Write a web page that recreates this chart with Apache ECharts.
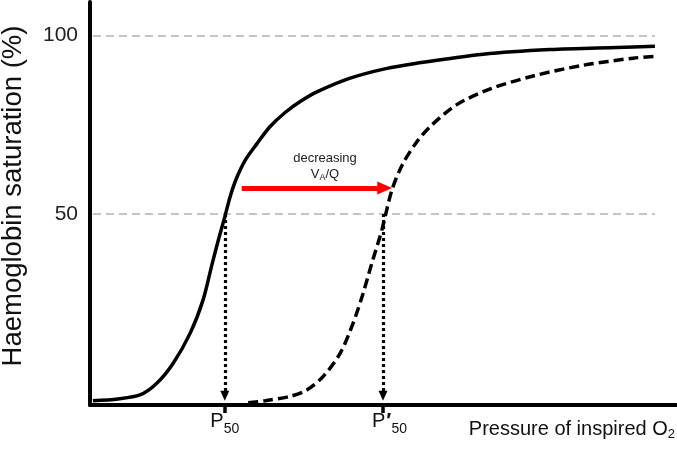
<!DOCTYPE html>
<html><head><meta charset="utf-8">
<script src="https://cdn.jsdelivr.net/npm/echarts@6/dist/echarts.min.js"></script>
<style>html,body{margin:0;padding:0;background:#fff}#c{width:677px;height:451px}</style>
</head><body><div id="c"></div>
<script>
// Solid curve (normal V/Q)
const solidX = [0.5, 4.8, 8.5, 11.4, 14.2, 17.1, 19.3, 20.8, 21.9, 23.0, 23.9, 25.0, 26.5, 28.5, 30.7, 33.3, 36.0, 38.9, 44.4, 50.3, 55.8, 67.1, 78.5, 89.9, 96.4];
const solidY = [-2.2, -1.7, -0.6, 2.7, 8.3, 16.7, 26.0, 35.8, 42.7, 49.2, 54.8, 60.0, 65.1, 69.7, 74.4, 78.4, 81.6, 84.3, 88.0, 90.6, 92.2, 94.7, 96.0, 96.6, 96.9];
// Dashed curve (decreased V/Q)
const dashedX = [27.0, 29.9, 34.1, 37.0, 39.8, 42.7, 44.9, 46.6, 48.1, 49.8, 51.5, 53.3, 55.6, 58.0, 62.6, 68.3, 75.6, 84.1, 92.7, 96.4];
const dashedY = [-2.8, -2.2, -1.0, 0.8, 4.6, 11.1, 19.5, 27.8, 36.3, 45.5, 56.6, 63.8, 69.8, 74.4, 80.6, 85.0, 88.6, 91.6, 93.6, 94.1];
// P50 positions and labels
const pValues = [23.0, 50.0];
const pLabels = ['{p|P}{s|50}', '{pp|P}{q|\u2032}{s|50}'];
// y ticks
const yTicks = [50, 100];
const gridEndX = 96.4;
const arrowBaseY = -0.8;
// Red arrow (decreasing VA/Q)
const shiftArrow = {fromX: 25.9, toX: 50.3, y: 57.3};
const annotation = {x: 40.1, y: 63.2, text: 'decreasing\nV{a|A}/Q'};

const FONT = "'Liberation Sans', Arial, 'DejaVu Sans', sans-serif";
const zip = (xs, ys) => xs.map((x, i) => [x, ys[i]]);

const chart = echarts.init(document.getElementById('c'), null, {renderer: 'canvas'});
chart.setOption({
  animation: false,
  backgroundColor: '#fff',
  grid: {left: 90, right: 1, top: 2, bottom: 46, containLabel: false, outerBoundsMode: 'none'},
  xAxis: {
    type: 'value', min: 0, max: 100,
    axisLine: {show: true, onZero: false, lineStyle: {color: '#000', width: 4}},
    axisTick: {show: true, customValues: pValues, length: 8, lineStyle: {color: '#000', width: 3.5}},
    splitLine: {show: false},
    axisLabel: {
      customValues: pValues, margin: 6, color: '#111', fontFamily: FONT,
      formatter: v => pLabels[pValues.indexOf(v)],
      rich: {
        p: {fontSize: 20, lineHeight: 26, verticalAlign: 'top', fontFamily: FONT, color: '#111'},
        pp: {fontSize: 20, lineHeight: 26, verticalAlign: 'top', padding: [0, 0, 0, 13], fontFamily: FONT, color: '#111'},
        q: {fontSize: 21, lineHeight: 26, verticalAlign: 'top', fontWeight: 'bold', padding: [0, 0, 0, 1], fontFamily: FONT, color: '#111'},
        s: {fontSize: 14, lineHeight: 14, padding: [11, 0, 0, 0], verticalAlign: 'top', fontFamily: FONT, color: '#111'}
      }
    },
    name: 'Pressure of inspired O{s|2}',
    nameLocation: 'end', nameGap: -1,
    nameTextStyle: {
      align: 'right', verticalAlign: 'top', padding: [13, 0, 0, 0], fontFamily: FONT, fontSize: 20, color: '#111',
      rich: {
        s: {fontSize: 13, padding: [10, 0, 0, 0], fontFamily: FONT, color: '#111'}
      }
    }
  },
  yAxis: {
    type: 'value', min: -3.4, max: 109.3,
    axisLine: {show: true, onZero: false, lineStyle: {color: '#000', width: 4}},
    axisTick: {show: false},
    splitLine: {show: false},
    axisLabel: {customValues: yTicks, fontSize: 21, margin: 12, color: '#222', fontFamily: FONT},
    name: 'Haemoglobin saturation (%)',
    nameLocation: 'middle', nameRotate: 90, nameGap: 63,
    nameTextStyle: {fontSize: 27.5, color: '#111', fontFamily: FONT, padding: [0, 0, 0, 15]}
  },
  series: [
    {
      type: 'line', data: zip(solidX, solidY), smooth: 0.3,
      showSymbol: false, symbol: 'none',
      lineStyle: {color: '#000', width: 3.5}, z: 5,
      markLine: {
        silent: true, symbol: 'none', label: {show: false},
        lineStyle: {color: '#c4c4c4', type: [8, 5], width: 2},
        data: yTicks.map(t => [{coord: [0.5, t]}, {coord: [gridEndX, t]}])
      }
    },
    {
      type: 'line', data: zip(dashedX, dashedY), smooth: 0.3,
      showSymbol: false, symbol: 'none',
      lineStyle: {color: '#000', width: 3.5, type: [10, 5]}, z: 5,
      markLine: {
        silent: true, label: {show: false},
        symbol: ['none', 'triangle'], symbolSize: [9, 10],
        lineStyle: {color: '#000', type: [3, 3], width: 3.2},
        data: pValues.map(p => [{coord: [p, 50]}, {coord: [p, arrowBaseY]}])
      }
    },
    {
      type: 'line', data: [], symbol: 'none',
      markLine: {
        silent: true, label: {show: false},
        symbol: ['none', 'triangle'], symbolSize: [13, 15],
        lineStyle: {color: '#ff0000', type: 'solid', width: 5},
        data: [[{coord: [shiftArrow.fromX, shiftArrow.y]}, {coord: [shiftArrow.toX, shiftArrow.y]}]]
      },
      markPoint: {
        silent: true, symbol: 'circle', symbolSize: 0,
        label: {
          show: true, position: 'inside', formatter: annotation.text,
          fontSize: 13, lineHeight: 16, color: '#222', fontFamily: FONT, align: 'center',
          rich: {a: {fontSize: 9, padding: [6, 0, 0, 0], fontFamily: FONT, color: '#222'}}
        },
        data: [{coord: [annotation.x, annotation.y]}]
      }
    }
  ]
});
</script></body></html>
